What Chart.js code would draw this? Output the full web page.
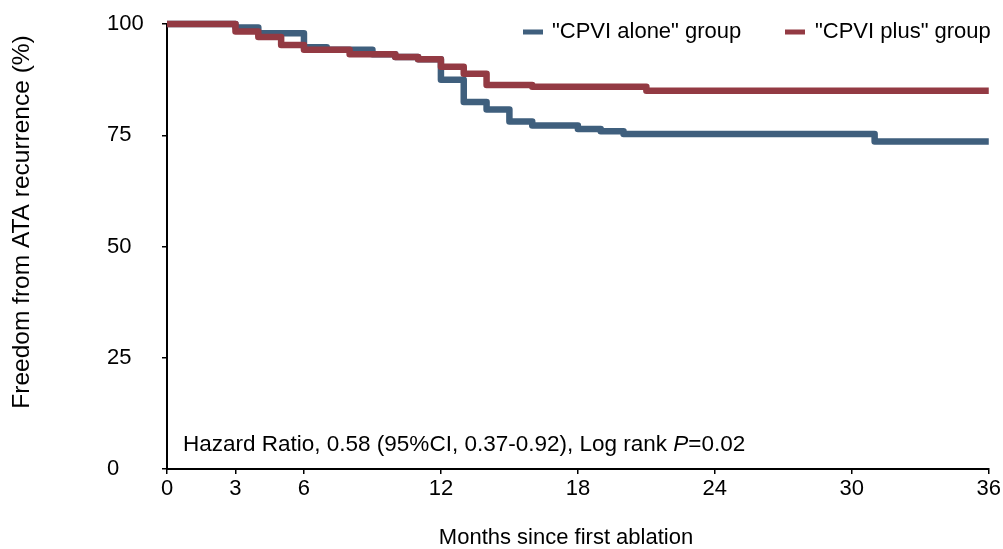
<!DOCTYPE html>
<html>
<head>
<meta charset="utf-8">
<script src="https://cdn.jsdelivr.net/npm/chart.js@4"></script>
<style>
  html, body { margin: 0; padding: 0; background: #fff; }
  #wrap { width: 1003px; height: 549px; position: relative; }
</style>
</head>
<body>
<div id="wrap"><canvas id="km"></canvas></div>
<script>
// Kaplan-Meier steps (months, % free from recurrence)
const aloneMonths = [0, 3, 4, 6, 7, 9, 10, 11, 12, 13, 14, 15, 16, 18, 19, 20, 31, 36];
const aloneValues = [100, 99.2, 97.9, 94.8, 94.2, 93.2, 92.6, 92.1, 87.5, 82.5, 80.8, 78.1, 77.2, 76.4, 75.9, 75.3, 73.6, 73.6];
const plusMonths = [0, 3, 4, 5, 6, 8, 10, 11, 12, 13, 14, 16, 21, 36];
const plusValues = [100, 98.3, 97.1, 95.3, 94.2, 93.2, 92.6, 92.1, 90.4, 88.8, 86.3, 85.9, 85.0, 85.0];
const xTickValues = [0, 3, 6, 12, 18, 24, 30, 36];
const yTickValues = [0, 25, 50, 75, 100];
const seriesLabels = ['"CPVI alone" group', '"CPVI plus" group'];
const seriesColors = ['#3f5f7d', '#933a43'];
const noteText = 'Hazard Ratio, 0.58 (95%CI, 0.37-0.92), Log rank ';

const FONT = '"Liberation Sans", Arial, sans-serif';
const toPoints = (xs, ys) => xs.map((x, i) => ({ x, y: ys[i] }));

const extras = {
  id: 'extras',
  afterDraw(chart) {
    const { ctx } = chart;
    ctx.save();
    ctx.fillStyle = '#000';
    ctx.font = '22px ' + FONT;
    ctx.textBaseline = 'middle';

    // legend
    const items = [[523, 552], [785, 815]];
    items.forEach(([mx, tx], i) => {
      ctx.fillStyle = seriesColors[i];
      ctx.fillRect(mx, 29.5, 20, 5);
      ctx.fillStyle = '#000';
      ctx.textAlign = 'left';
      ctx.fillText(seriesLabels[i], tx, 32);
    });

    // hazard ratio note
    const noteFont = '22.5px ' + FONT;
    ctx.font = noteFont;
    ctx.textAlign = 'left';
    ctx.fillText(noteText, 183, 445);
    let x = 183 + ctx.measureText(noteText).width;
    ctx.font = 'italic ' + noteFont;
    ctx.fillText('P', x, 445);
    x += ctx.measureText('P').width;
    ctx.font = noteFont;
    ctx.fillText('=0.02', x, 445);

    // axis titles
    ctx.font = '22px ' + FONT;
    ctx.textAlign = 'center';
    ctx.fillText('Months since first ablation', 566, 538);
    ctx.font = '24.5px ' + FONT;
    ctx.translate(22, 222);
    ctx.rotate(-Math.PI / 2);
    ctx.fillText('Freedom from ATA recurrence (%)', 0, 0);
    ctx.restore();
  }
};

new Chart(document.getElementById('km'), {
  type: 'line',
  data: {
    datasets: [
      {
        label: seriesLabels[0],
        data: toPoints(aloneMonths, aloneValues),
        borderColor: seriesColors[0],
        order: 1,
      },
      {
        label: seriesLabels[1],
        data: toPoints(plusMonths, plusValues),
        borderColor: seriesColors[1],
        order: 0,
      },
    ]
  },
  options: {
    responsive: true,
    maintainAspectRatio: false,
    animation: false,
    layout: { padding: { left: 107, top: 24, right: 14, bottom: 0 } },
    datasets: {
      line: {
        stepped: 'before',
        borderWidth: 6.5,
        pointRadius: 0,
        clip: false,
        borderJoinStyle: 'round',
      }
    },
    scales: {
      x: {
        type: 'linear',
        min: 0,
        max: 36,
        afterBuildTicks: axis => { axis.ticks = xTickValues.map(value => ({ value })); },
        afterFit: axis => { axis.height = 549 - 469; },
        ticks: {
          color: '#000',
          padding: 2,
          maxRotation: 0,
          font: { size: 22, family: FONT },
        },
        grid: { drawOnChartArea: false, color: '#000', lineWidth: 1.5, tickLength: 5 },
        border: { color: '#000', width: 2 },
      },
      y: {
        min: 0,
        max: 100,
        afterBuildTicks: axis => { axis.ticks = yTickValues.map(value => ({ value })); },
        afterFit: axis => { axis.width = 167 - 107; },
        ticks: {
          color: '#000',
          crossAlign: 'far',
          font: { size: 22, family: FONT },
        },
        grid: { drawOnChartArea: false, color: '#000', lineWidth: 1.5, tickLength: 5 },
        border: { color: '#000', width: 2 },
      },
    },
    plugins: {
      legend: { display: false },
      tooltip: { enabled: false },
    },
  },
  plugins: [extras]
});
</script>
</body>
</html>
